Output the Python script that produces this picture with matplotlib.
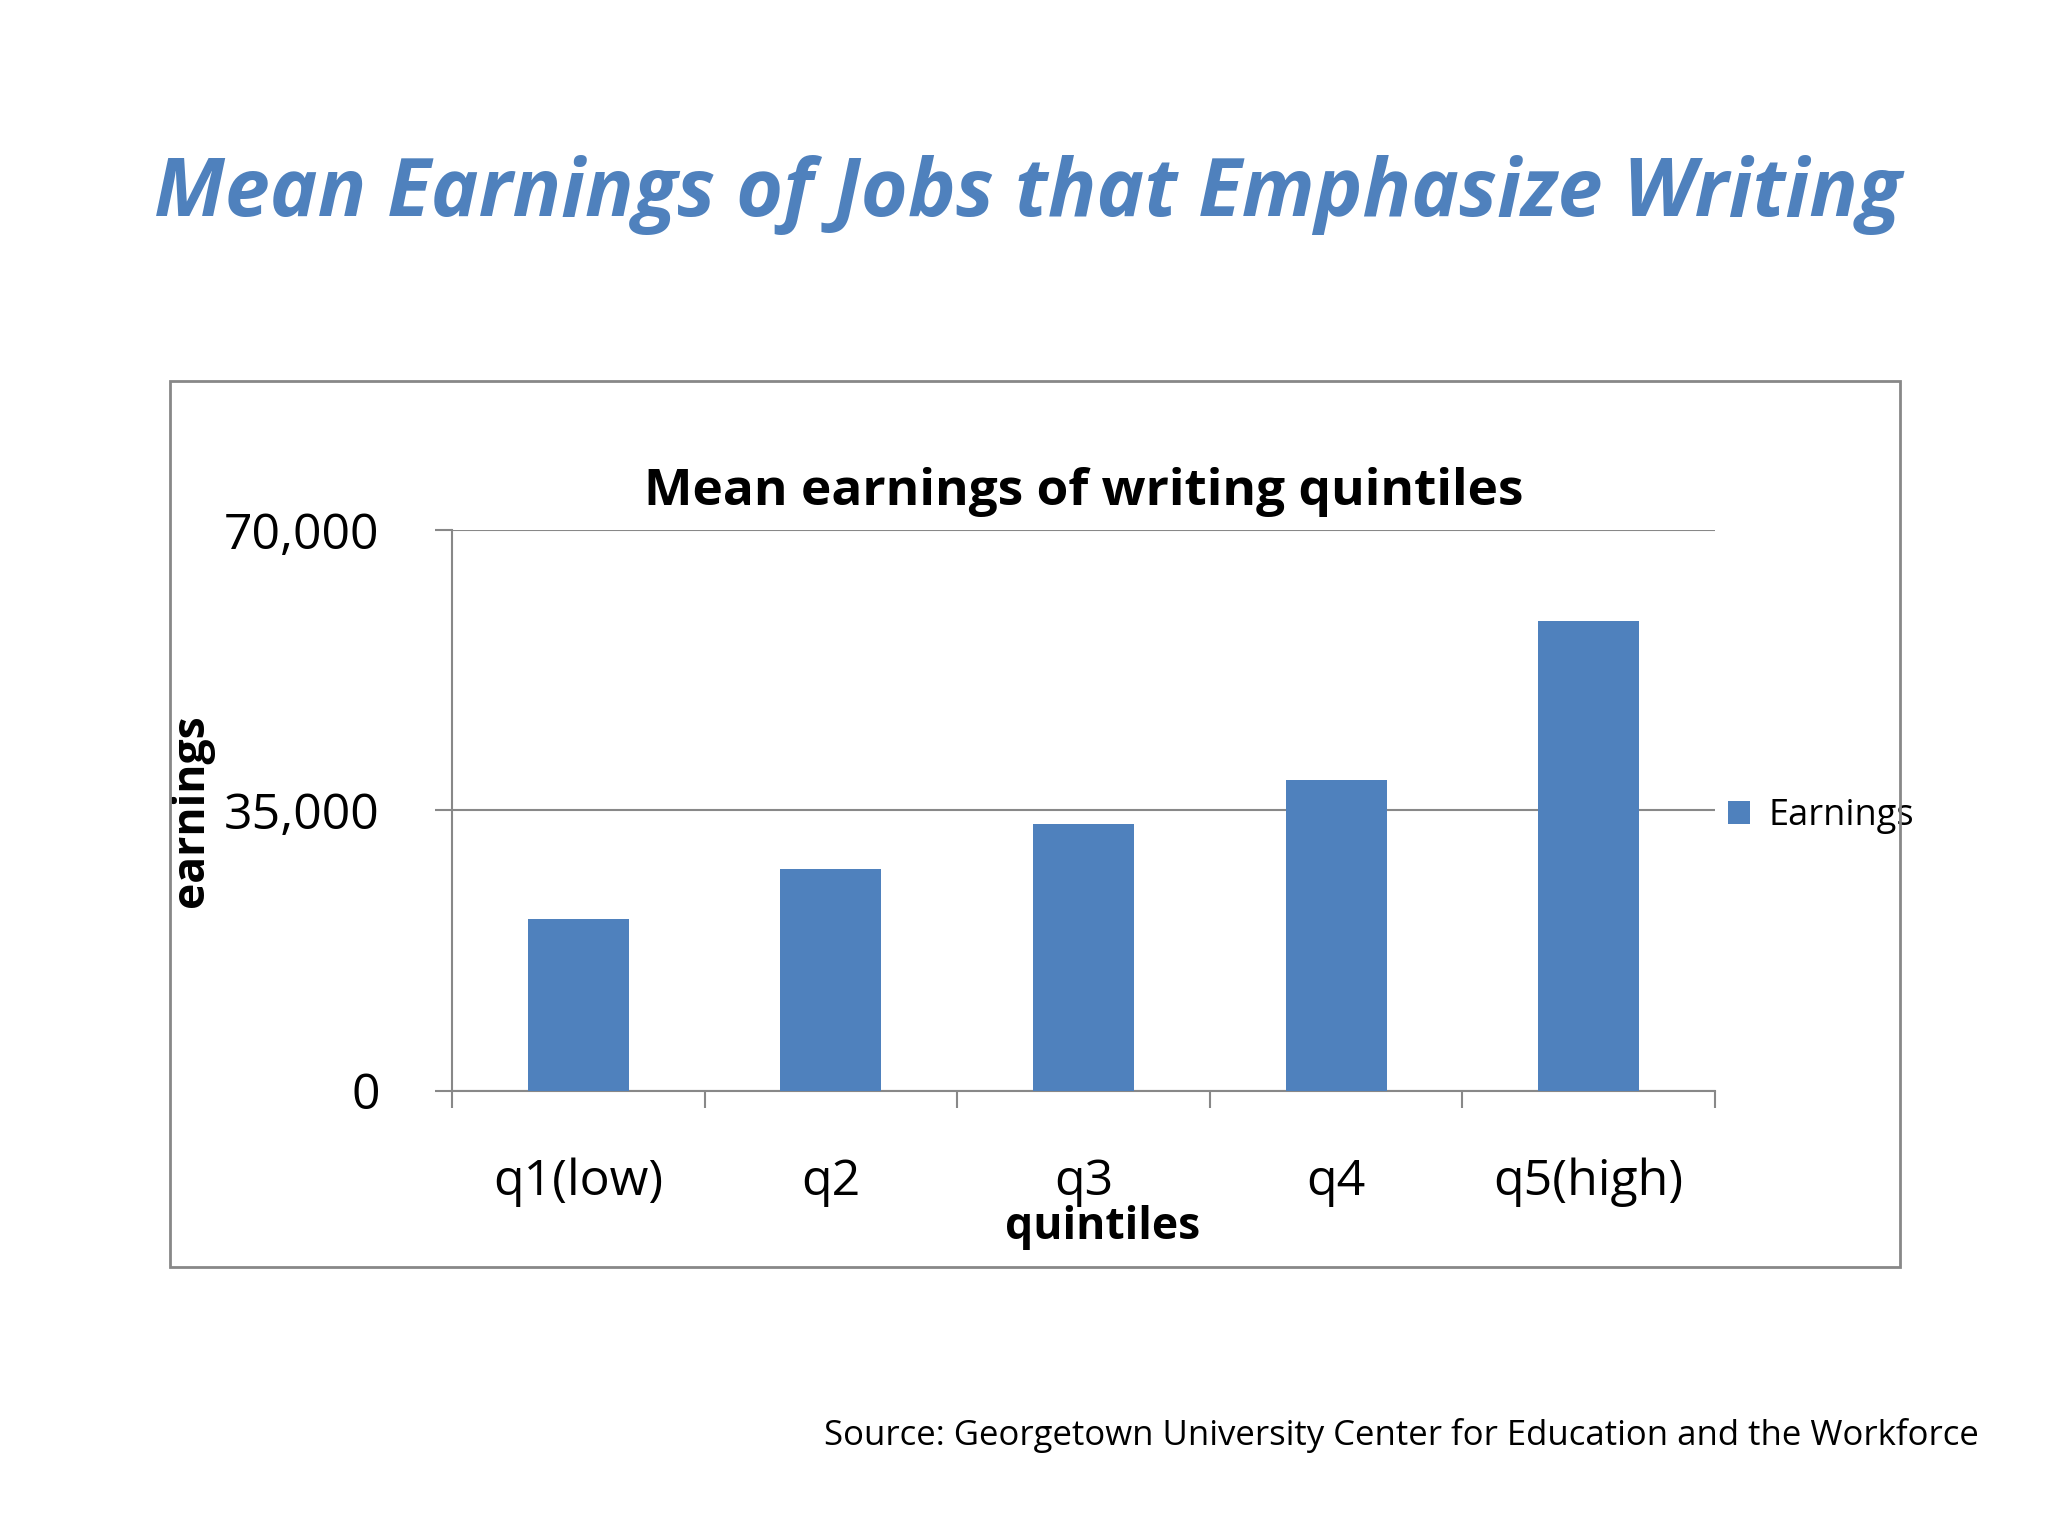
import matplotlib
matplotlib.use("Agg")
import matplotlib.pyplot as plt
from matplotlib.patches import Rectangle

categories = ["q1(low)", "q2", "q3", "q4", "q5(high)"]
earnings = [21400, 27700, 33300, 38800, 58700]
yticks = [0, 35000, 70000]
ytick_labels = ["0", "35,000", "70,000"]

BLUE = "#4F81BD"
FONT = "Open Sans"
fig = plt.figure(figsize=(20.48, 15.36), dpi=100)
fig.patch.set_facecolor("white")

fig.text(0.502, 0.873, "Mean Earnings of Jobs that Emphasize Writing", ha="center", va="center",
         fontsize=58, fontstyle="italic", fontweight="bold", color=BLUE, family=FONT)

fig.patches.append(Rectangle((130/1568, 1-970/1176), (1455-130)/1568, (970-292)/1176,
                             transform=fig.transFigure, fill=False, edgecolor="#888888", lw=2))

ax = fig.add_axes([346/1568, 1-835/1176, (1313-346)/1568, (835-406)/1176])
x = list(range(len(categories)))
ax.bar(x, earnings, width=0.4, color=BLUE, zorder=3, label="Earnings")
ax.set_xlim(-0.5, len(categories)-0.5)
ax.set_ylim(0, 70000)
ax.set_yticks(yticks)
ax.set_yticklabels(ytick_labels, fontsize=36, family=FONT)
ax.yaxis.grid(True, color="#888888", lw=1.5, zorder=0)
ax.set_xticks([i-0.5 for i in range(len(categories)+1)])
ax.set_xticklabels([])
ax.set_xticks(x, minor=True)
ax.set_xticklabels(categories, minor=True, fontsize=36, family=FONT)
ax.tick_params(axis="x", which="major", length=12, direction="out", color="#888888", width=1.5)
ax.tick_params(axis="x", which="minor", length=0, pad=48)
ax.tick_params(axis="y", length=12, direction="out", color="#888888", width=1.5, pad=40)
for s in ["top", "right"]:
    ax.spines[s].set_visible(False)
for s in ["left", "bottom"]:
    ax.spines[s].set_color("#888888"); ax.spines[s].set_linewidth(1.5)
ax.set_title("Mean earnings of writing quintiles", fontsize=37, fontweight="bold", family=FONT, pad=18)
ax.set_xlabel("quintiles", fontsize=32, fontweight="bold", family=FONT)
ax.xaxis.set_label_coords(0.515, -0.205)
ax.set_ylabel("earnings", fontsize=32, fontweight="bold", family=FONT)
ax.yaxis.set_label_coords(-0.188, 0.5)
ax.legend(loc="center left", bbox_to_anchor=(0.985, 0.49), frameon=False,
          handlelength=0.6, handleheight=0.6, handletextpad=0.5, prop={"family": FONT, "size": 26})

fig.text(1515/1568, 1-1099/1176, "Source: Georgetown University Center for Education and the Workforce",
         ha="right", va="center", fontsize=25, family=FONT)
fig.savefig("out.png", dpi=100)
